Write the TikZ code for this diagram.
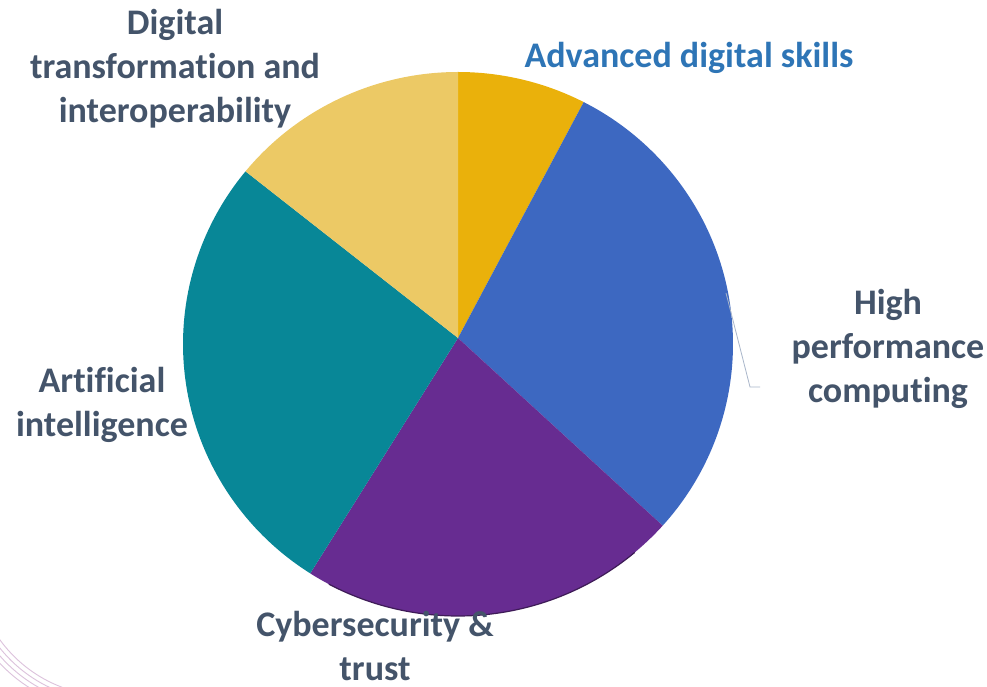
\documentclass[tikz,border=0pt]{standalone}
\usepackage{fontspec}
\setmainfont[Ligatures=NoCommon]{Carlito}
\usetikzlibrary{calc}
\definecolor{cgold}{HTML}{EAB10B}
\definecolor{cblue}{HTML}{3D68C1}
\definecolor{cpurple}{HTML}{672C91}
\definecolor{cteal}{HTML}{088797}
\definecolor{cyell}{HTML}{ECC965}
\definecolor{labelgray}{HTML}{44546A}
\definecolor{skillblue}{HTML}{2E75B6}
\definecolor{leadergray}{HTML}{A9B6CA}
\definecolor{decopink}{HTML}{DCC2DC}
\newcommand\pieRx{275}
\newcommand\pieRy{272}
\newcommand\pieslice[3]{\fill[#3] (V) -- ($(C)+(#1:\pieRx\space and \pieRy)$) arc[start angle=#1, end angle=#2, x radius=\pieRx, y radius=\pieRy] -- cycle;}
\begin{document}
\begin{tikzpicture}[x=1pt,y=1pt,
  lbl/.style={font=\bfseries\fontsize{36}{44}\selectfont, text=labelgray, align=center, inner sep=0pt},
  leader/.style={draw=leadergray, line width=0.8pt},
  deco/.style={draw=decopink, line width=0.9pt}]
\useasboundingbox (0,0) rectangle (987,686);
\fill[white] (0,0) rectangle (987,686);
% decorative arcs bottom-left
\foreach \r in {136,141,146,151}{
  \draw[deco] (110,126) ++(195:\r) arc[start angle=195, end angle=265, radius=\r];
}
\coordinate (C) at (458,342);
\coordinate (V) at (458,348);
\pieslice{62.8}{90}{cgold}
\pieslice{-41.9}{62.8}{cblue}
\pieslice{-122.5}{-41.9}{cpurple}
\pieslice{140.6}{237.5}{cteal}
\pieslice{90}{140.6}{cyell}
% subtle shadow at the bottom rim
\draw[cpurple!60!black, line width=1.2pt] ($(C)+(-118:\pieRx\space and \pieRy)$) arc[start angle=-118, end angle=-50, x radius=\pieRx, y radius=\pieRy];
% labels
\node[lbl] (dti) at (175,617) {Digital\\transformation and\\interoperability};
\node[lbl, text=skillblue] (ads) at (689,628) {Advanced digital skills};
\node[lbl] (hpc) at (888,337) {High\\performance\\computing};
\node[lbl] (ai) at (102,281) {Artificial\\intelligence};
\node[lbl] (cyb) at (375,40) {Cybersecurity \&\\trust};
% leader line for HPC
\coordinate (la) at (726,393);
\coordinate (lb) at (750,299);
\coordinate (lc) at (760,299);
\draw[leader] (la) -- (lb) -- (lc);
\end{tikzpicture}
\end{document}
